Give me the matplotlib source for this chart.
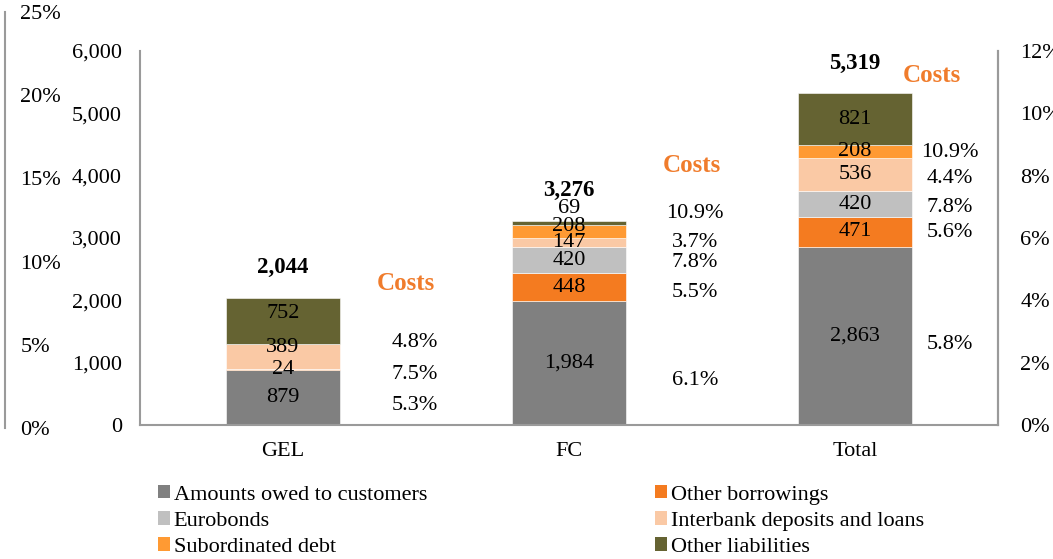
import numpy as np
import matplotlib.pyplot as plt
from matplotlib.patches import Patch
from matplotlib.ticker import FuncFormatter

plt.rcParams['font.family'] = ['Liberation Serif', 'DejaVu Serif']

categories = ['GEL', 'FC', 'Total']
series_names = ['Amounts owed to customers', 'Other borrowings', 'Eurobonds',
                'Interbank deposits and loans', 'Subordinated debt', 'Other liabilities']
customers = [879, 1984, 2863]
other_borrowings = [24, 448, 471]
eurobonds = [0, 420, 420]
interbank = [389, 147, 536]
subordinated = [0, 208, 208]
other_liabilities = [752, 69, 821]
totals = [2044, 3276, 5319]

# cost of funding per segment (None = no label)
costs_gel = [5.3, 7.5, None, 4.8, None, None]
costs_fc = [6.1, 5.5, 7.8, 3.7, 10.9, None]
costs_total = [5.8, 5.6, 7.8, 4.4, 10.9, None]

colors = ['#808080', '#F47B20', '#C0C0C0', '#FAC9A5', '#FF9A33', '#656332']

# layout tweaks (pixels up) for crowded labels
value_nudge = {(0, 3): 9, (0, 5): 8, (1, 4): 5, (1, 5): 14}
cost_nudge = [[-8, -5, 0, 14, 0, 0],
              [-17, -5, -2, 0, 18, 0],
              [-9, -1, -3, -4, -1, 0]]
cost_x = [0.46, 1.44, 2.33]
costs_label_pos = [(0.43, 2265), (1.43, 4160), (2.27, 5600)]

series = [customers, other_borrowings, eurobonds, interbank, subordinated, other_liabilities]
costs = [costs_gel, costs_fc, costs_total]

W, H = 1053, 559
fig = plt.figure(figsize=(W / 100, H / 100), dpi=100)
ax = fig.add_axes([140 / W, 1 - 425 / H, (998 - 140) / W, (425 - 51) / H])

fs = 16
x = np.arange(len(categories))
bottom = np.zeros(len(categories))
for i, vals in enumerate(series):
    vals = np.array(vals, dtype=float)
    ax.bar(x, vals, 0.40, bottom=bottom, color=colors[i], edgecolor='white', linewidth=0.4)
    for j in range(len(categories)):
        if vals[j] > 0:
            ax.annotate(f'{int(vals[j]):,}', (x[j], bottom[j] + vals[j] / 2),
                        xytext=(0, value_nudge.get((j, i), 0) * 0.72), textcoords='offset points',
                        ha='center', va='center', fontsize=fs, color='black')
        c = costs[j][i]
        if c is not None:
            ax.annotate(f'{c:.1f}%', (cost_x[j], bottom[j] + vals[j] / 2),
                        xytext=(0, cost_nudge[j][i] * 0.72), textcoords='offset points',
                        ha='center', va='center', fontsize=fs, color='black')
    bottom += vals

for j, t in enumerate(totals):
    ax.annotate(f'{t:,}', (x[j], t), xytext=(0, 30 * 0.72), textcoords='offset points',
                ha='center', va='center', fontsize=fs + 0.5, fontweight='bold')
    cx, cy = costs_label_pos[j]
    ax.text(cx, cy, 'Costs', ha='center', va='center', fontsize=18, fontweight='bold',
            color='#F07C2C')

ax.set_xlim(-0.5, 2.5)
ax.set_ylim(0, 6000)
ax.set_yticks(np.arange(0, 6001, 1000))
ax.yaxis.set_major_formatter(FuncFormatter(lambda v, p: f'{int(v):,}'))
ax.set_xticks(x)
ax.set_xticklabels(categories)
ax.tick_params(axis='both', length=0, labelsize=fs)
ax.tick_params(axis='y', pad=13)
ax.tick_params(axis='x', pad=12)
for s in ['left', 'bottom', 'right']:
    ax.spines[s].set_color('#9A9A9A')
    ax.spines[s].set_linewidth(1.5)
ax.spines['top'].set_visible(False)

# right percentage axis
ax2 = ax.twinx()
ax2.set_ylim(0, 12)
ax2.set_yticks(np.arange(0, 13, 2))
ax2.yaxis.set_major_formatter(FuncFormatter(lambda v, p: f'{int(v)}%'))
ax2.tick_params(axis='y', length=0, labelsize=fs, pad=16)
for s in ['left', 'bottom', 'top']:
    ax2.spines[s].set_visible(False)
ax2.spines['right'].set_color('#9A9A9A')
ax2.spines['right'].set_linewidth(1.5)

# far-left percentage axis
ax3 = fig.add_axes([5 / W, 1 - 428 / H, 0.0001, (428 - 12) / H])
ax3.set_ylim(0, 25)
ax3.set_yticks(np.arange(0, 26, 5))
ax3.yaxis.set_major_formatter(FuncFormatter(lambda v, p: f'{int(v)}%'))
ax3.yaxis.tick_right()
ax3.tick_params(axis='y', length=0, labelsize=fs, pad=11)
ax3.set_xticks([])
for s in ['right', 'bottom', 'top']:
    ax3.spines[s].set_visible(False)
ax3.spines['left'].set_color('#9A9A9A')
ax3.spines['left'].set_linewidth(1.5)
ax3.patch.set_visible(False)

handles = [Patch(facecolor=colors[i], edgecolor='none') for i in range(6)]
leg_kw = dict(frameon=False, fontsize=fs, handlelength=0.55, handleheight=0.55,
              handletextpad=0.15, labelspacing=0.3, borderpad=0, borderaxespad=0)
leg1 = fig.legend([handles[0], handles[2], handles[4]], [series_names[0], series_names[2], series_names[4]],
                  loc='upper left', bbox_to_anchor=(158 / W, 1 - 485 / H), **leg_kw)
leg2 = fig.legend([handles[1], handles[3], handles[5]], [series_names[1], series_names[3], series_names[5]],
                  loc='upper left', bbox_to_anchor=(655 / W, 1 - 485 / H), **leg_kw)

fig.savefig('out.png', dpi=100)
